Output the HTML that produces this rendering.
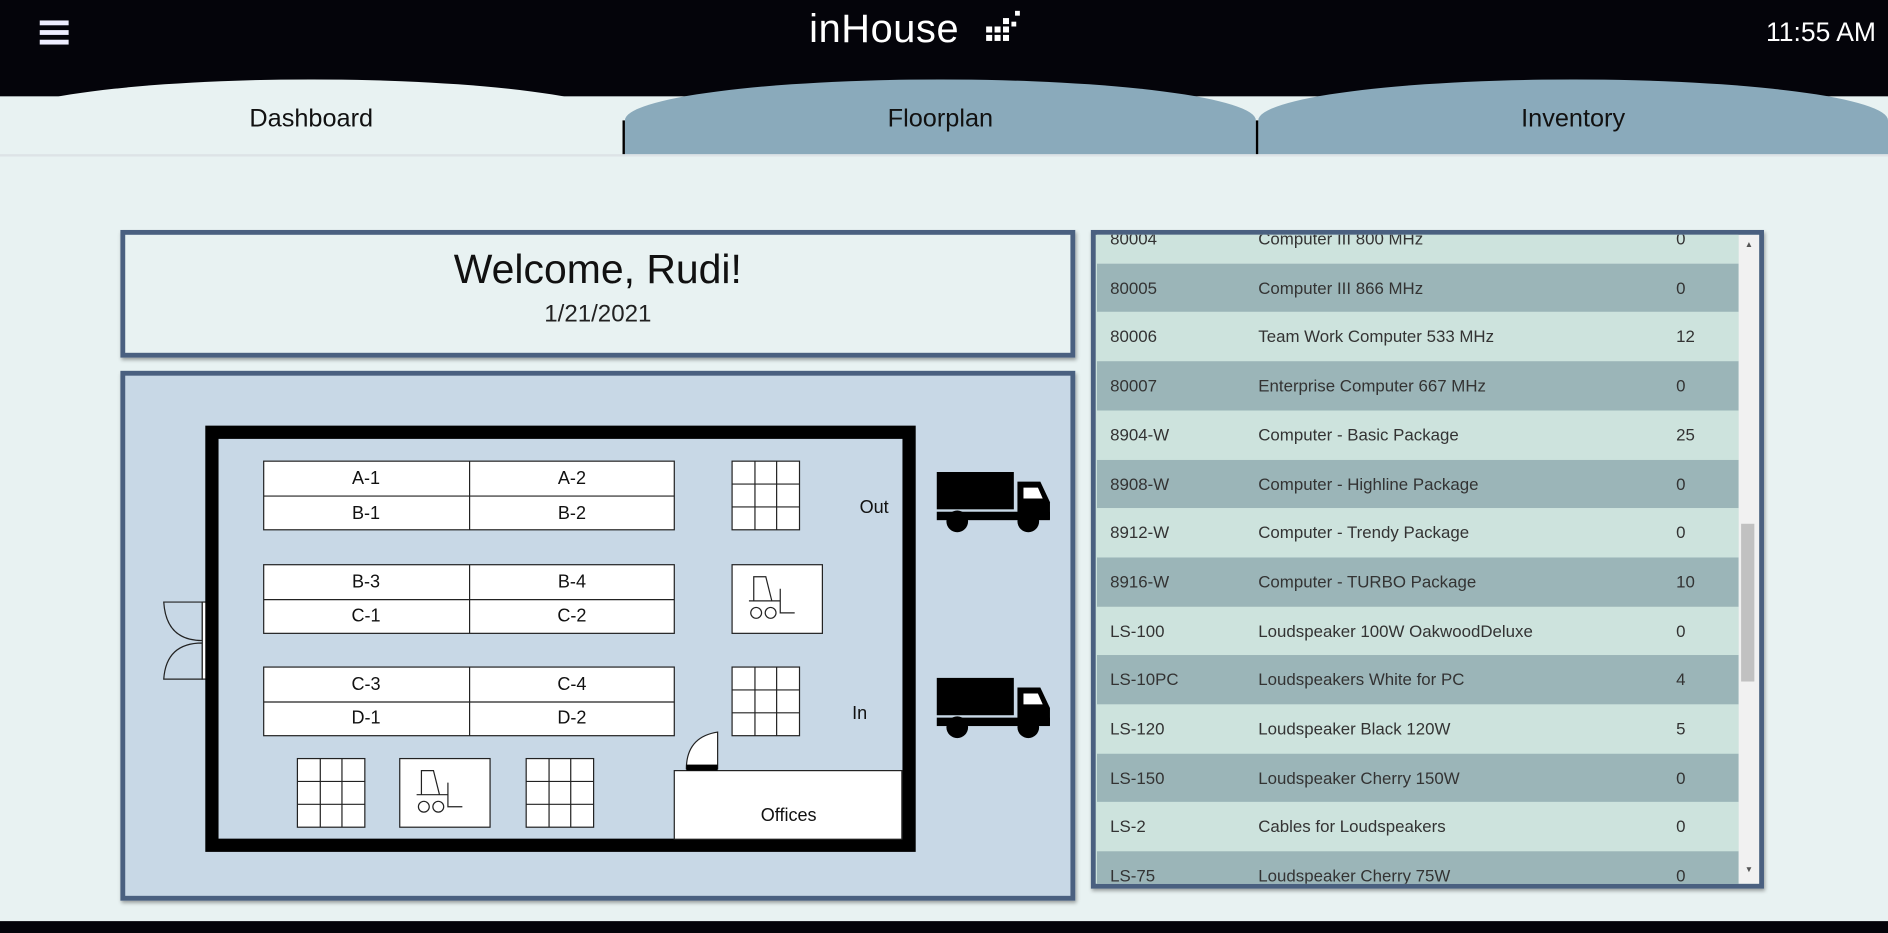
<!DOCTYPE html>
<html><head><meta charset="utf-8"><style>
*{margin:0;padding:0;box-sizing:border-box}
html,body{width:1888px;height:933px;overflow:hidden;background:#e8f2f2;font-family:"Liberation Sans",sans-serif}
#w{position:absolute;left:0;top:0;width:1568px;height:775px;transform:scale(1.20408);transform-origin:0 0;background:#e8f2f2}
.a{position:absolute}
.hdr{left:0;top:0;width:1568px;height:80px;background:#04040a}
.tab{top:66px;height:63px;border-radius:50% 50% 0 0/34px 34px 0 0;text-align:center;font-size:21px;line-height:62px;color:#111;padding-top:2px}
.panel{border:4px solid #4a6080;box-shadow:1px 2px 3px rgba(0,0,0,.35)}
.row{position:absolute;left:0;width:533px;height:40.7px;font-size:14px;color:#333;line-height:40.7px}
.row span{position:absolute}
</style></head><body><div id="w">
<div class="a hdr"></div>
<div class="a" style="left:33px;top:17px;width:24px;height:4px;background:#eef"></div>
<div class="a" style="left:33px;top:25px;width:24px;height:4px;background:#eef"></div>
<div class="a" style="left:33px;top:33px;width:24px;height:4px;background:#eef"></div>
<div class="a" style="left:672px;top:5px;font-size:33px;color:#fff;letter-spacing:0.5px">inHouse</div>
<svg class="a" style="left:818px;top:8px" width="32" height="32"><g fill="#fff"><rect x="1" y="14" width="5" height="5"/><rect x="8" y="14" width="5" height="5"/><rect x="1" y="21" width="5" height="5"/><rect x="8" y="21" width="5" height="5"/><rect x="15" y="21" width="5" height="5"/><rect x="15" y="14" width="5" height="5"/><rect x="15" y="7" width="5" height="5"/><rect x="22" y="10" width="4" height="4"/><rect x="25" y="1" width="4" height="4"/></g></svg>
<div class="a" style="right:10px;top:14px;font-size:22px;color:#fff">11:55 AM</div>
<div class="a tab" style="left:0;width:517px;background:#e8f2f2">Dashboard</div>
<div class="a tab" style="left:519px;width:524px;background:#8aaabb">Floorplan</div>
<div class="a tab" style="left:1045px;width:523px;background:#8aaabb">Inventory</div>
<div class="a" style="left:517px;top:100px;width:2px;height:29px;background:#000"></div>
<div class="a" style="left:1043px;top:100px;width:2px;height:29px;background:#000"></div>
<div class="a" style="left:0;top:128px;width:1568px;height:2px;background:#dde3e6"></div>
<div class="a" style="left:0;top:765px;width:1568px;height:10px;background:#04040a"></div>

<div class="a panel" style="left:100px;top:191px;width:793px;height:106px;background:#e8f2f2;text-align:center">
<div style="font-size:34px;color:#111;margin-top:10px">Welcome, Rudi!</div>
<div style="font-size:20px;color:#222;margin-top:6px">1/21/2021</div>
</div>

<div class="a panel" style="left:100px;top:308px;width:793px;height:440px;background:#c8d8e6"></div>
<svg class="a" style="left:0;top:0" width="1568" height="775">
<defs>
<g id="gr"><rect x="0" y="0" width="56" height="57" fill="#fff" stroke="#222"/><path d="M19 0V57M37 0V57M0 19H56M0 38H56" stroke="#222" fill="none"/></g>
<g id="fk"><rect x="0" y="0" width="75" height="57" fill="#fff" stroke="#222"/><path d="M18 30 L18 10 L28 10 L33 30 M14 30 L40 30 M40 20 L40 40 L52 40" fill="none" stroke="#222"/><circle cx="20" cy="40" r="4.5" fill="none" stroke="#222"/><circle cx="32" cy="40" r="4.5" fill="none" stroke="#222"/></g>
<g id="tr"><rect x="0" y="0" width="64" height="31" fill="#000"/><path d="M67 8 L86 8 L94 25 L94 39 L67 39 Z" fill="#000"/><rect x="0" y="33" width="94" height="7" fill="#000"/><circle cx="17" cy="41" r="9" fill="#000"/><circle cx="76" cy="41" r="9" fill="#000"/><path d="M72 13 L84 13 L88 22 L72 22Z" fill="#fff"/></g>
</defs>
<path d="M136 500 Q138 532 168 532 L168 500 Z M136 564 Q138 534 168 534 L168 564 Z" fill="#c8d8e6" stroke="#222"/>
<rect x="168" y="500" width="4" height="64" fill="#fff" stroke="#222"/>
<rect x="176" y="359" width="579" height="343" fill="none" stroke="#000" stroke-width="11"/>
<rect x="560" y="640" width="189" height="57" fill="#fff" stroke="#222"/>
<path d="M570 639 Q570 612 596 608 L596 639" fill="#fff" stroke="#222"/>
<rect x="570" y="635" width="26" height="5" fill="#000"/>
<g fill="#fff" stroke="#222" stroke-width="1">
<rect x="219" y="383" width="341" height="57"/><line x1="390" y1="383" x2="390" y2="440"/><line x1="219" y1="412" x2="560" y2="412"/>
<rect x="219" y="469" width="341" height="57"/><line x1="390" y1="469" x2="390" y2="526"/><line x1="219" y1="498" x2="560" y2="498"/>
<rect x="219" y="554" width="341" height="57"/><line x1="390" y1="554" x2="390" y2="611"/><line x1="219" y1="583" x2="560" y2="583"/>
</g>
<use href="#gr" x="608" y="383"/><use href="#gr" x="608" y="554"/><use href="#gr" x="247" y="630"/><use href="#gr" x="437" y="630"/>
<use href="#fk" x="608" y="469"/><use href="#fk" x="332" y="630"/>
<g font-family="Liberation Sans,sans-serif" font-size="15" fill="#111" text-anchor="middle">
<text x="304" y="402">A-1</text><text x="475" y="402">A-2</text><text x="304" y="431">B-1</text><text x="475" y="431">B-2</text>
<text x="304" y="488">B-3</text><text x="475" y="488">B-4</text><text x="304" y="516">C-1</text><text x="475" y="516">C-2</text>
<text x="304" y="573">C-3</text><text x="475" y="573">C-4</text><text x="304" y="601">D-1</text><text x="475" y="601">D-2</text>
<text x="726" y="426">Out</text><text x="714" y="597">In</text><text x="655" y="682">Offices</text>
</g>
<use href="#tr" x="778" y="392"/><use href="#tr" x="778" y="563"/>
</svg>

<div class="a panel" style="left:906px;top:191px;width:559px;height:547px;background:#cde3dd;overflow:hidden">
<div class="a" style="left:1px;top:0;width:533px;height:539px;overflow:hidden">
<div class="row" style="top:-17px;background:#cde3dd"><span style="left:11px">80004</span><span style="left:134px">Computer III 800 MHz</span><span style="left:481px">0</span></div>
<div class="row" style="top:23.7px;background:#9bb5b8"><span style="left:11px">80005</span><span style="left:134px">Computer III 866 MHz</span><span style="left:481px">0</span></div>
<div class="row" style="top:64.4px;background:#cde3dd"><span style="left:11px">80006</span><span style="left:134px">Team Work Computer 533 MHz</span><span style="left:481px">12</span></div>
<div class="row" style="top:105.1px;background:#9bb5b8"><span style="left:11px">80007</span><span style="left:134px">Enterprise Computer 667 MHz</span><span style="left:481px">0</span></div>
<div class="row" style="top:145.8px;background:#cde3dd"><span style="left:11px">8904-W</span><span style="left:134px">Computer - Basic Package</span><span style="left:481px">25</span></div>
<div class="row" style="top:186.5px;background:#9bb5b8"><span style="left:11px">8908-W</span><span style="left:134px">Computer - Highline Package</span><span style="left:481px">0</span></div>
<div class="row" style="top:227.2px;background:#cde3dd"><span style="left:11px">8912-W</span><span style="left:134px">Computer - Trendy Package</span><span style="left:481px">0</span></div>
<div class="row" style="top:267.9px;background:#9bb5b8"><span style="left:11px">8916-W</span><span style="left:134px">Computer - TURBO Package</span><span style="left:481px">10</span></div>
<div class="row" style="top:308.6px;background:#cde3dd"><span style="left:11px">LS-100</span><span style="left:134px">Loudspeaker 100W OakwoodDeluxe</span><span style="left:481px">0</span></div>
<div class="row" style="top:349.3px;background:#9bb5b8"><span style="left:11px">LS-10PC</span><span style="left:134px">Loudspeakers White for PC</span><span style="left:481px">4</span></div>
<div class="row" style="top:390px;background:#cde3dd"><span style="left:11px">LS-120</span><span style="left:134px">Loudspeaker Black 120W</span><span style="left:481px">5</span></div>
<div class="row" style="top:430.7px;background:#9bb5b8"><span style="left:11px">LS-150</span><span style="left:134px">Loudspeaker Cherry 150W</span><span style="left:481px">0</span></div>
<div class="row" style="top:471.4px;background:#cde3dd"><span style="left:11px">LS-2</span><span style="left:134px">Cables for Loudspeakers</span><span style="left:481px">0</span></div>
<div class="row" style="top:512.1px;background:#9bb5b8"><span style="left:11px">LS-75</span><span style="left:134px">Loudspeaker Cherry 75W</span><span style="left:481px">0</span></div>
</div>
<div class="a" style="left:534px;top:0;width:17px;height:539px;background:#f1f1f1"></div>
<div class="a" style="left:536px;top:240px;width:11px;height:131px;background:#c1c1c1"></div>
<div class="a" style="left:539px;top:5px;font-size:7px;color:#555">▲</div>
<div class="a" style="left:539px;top:524px;font-size:7px;color:#555">▼</div>
</div>
</div></body></html>
